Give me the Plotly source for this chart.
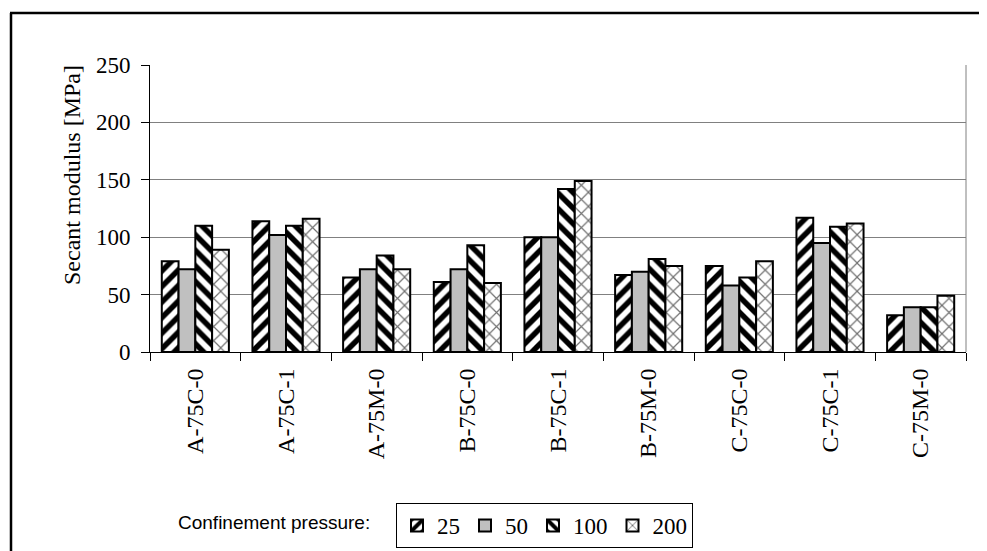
import plotly.graph_objects as go

categories = ["A-75C-0", "A-75C-1", "A-75M-0", "B-75C-0", "B-75C-1",
              "B-75M-0", "C-75C-0", "C-75C-1", "C-75M-0"]
series_names = ["25", "50", "100", "200"]
p25 = [79, 114, 65, 61, 100, 67, 75, 117, 32]
p50 = [72, 102, 72, 72, 100, 70, 58, 95, 39]
p100 = [110, 110, 84, 93, 142, 81, 65, 109, 39]
p200 = [89, 116, 72, 60, 149, 75, 79, 112, 49]
y_ticks = [0, 50, 100, 150, 200, 250]

# page offset caused by the default body margin
O = 8
W, H = 987 - O, 551 - O
# plot area in page pixels: x 150..966, y 65..352
L, T = 150 - O, 65 - O
R, B = W - (966 - O), H - (352 - O)
PW, PH = W - L - R, H - T - B

def px(x):  # page x -> paper
    return (x - O - L) / PW

def py(y):  # page y -> paper
    return (H - B - (y - O)) / PH

serif = "Liberation Serif, Times New Roman, serif"
sans = "Liberation Sans, Arial, sans-serif"

styles = [
    dict(color="white", pattern=dict(shape="/", fgcolor="black", bgcolor="white", size=11, solidity=0.5, fillmode="replace")),
    dict(color="#c0c0c0"),
    dict(color="white", pattern=dict(shape="\\", fgcolor="black", bgcolor="white", size=11, solidity=0.5, fillmode="replace")),
    dict(color="white", pattern=dict(shape="x", fgcolor="#707070", bgcolor="white", size=10, solidity=0.22, fillmode="replace")),
]

fig = go.Figure()
for name, vals, st in zip(series_names, [p25, p50, p100, p200], styles):
    marker = dict(line=dict(color="black", width=2), **st)
    fig.add_trace(go.Bar(x=categories, y=vals, name=name, marker=marker))

fig.update_layout(
    width=W, height=H,
    margin=dict(l=L, r=R, t=T, b=B, pad=0, autoexpand=False),
    paper_bgcolor="white", plot_bgcolor="white",
    barmode="group", bargap=0.26, bargroupgap=0,
    font=dict(family=serif, size=24, color="black"),
    showlegend=True,
    legend=dict(orientation="h", xref="container", yref="container",
                x=(396 - O) / W, y=1 - (503 - O) / H, xanchor="left", yanchor="top",
                bordercolor="black", borderwidth=1, bgcolor="white",
                font=dict(family=serif, size=23), itemwidth=30,
                traceorder="normal"),
    xaxis=dict(type="category", tickson="boundaries", ticks="outside", ticklen=8,
               tickcolor="black", showline=True, linecolor="black", linewidth=1,
               tickangle=-90, showgrid=False, automargin=False, ticklabelstandoff=6,
               tickfont=dict(family=serif, size=24)),
    yaxis=dict(range=[0, 250], tickvals=y_ticks, ticks="outside", ticklen=8,
               tickcolor="black", showline=True, linecolor="black", linewidth=1,
               showgrid=True, gridcolor="#808080", gridwidth=1, zeroline=False,
               automargin=False, ticklabelstandoff=6,
               tickfont=dict(family=serif, size=23)),
)

# plot-area right border
fig.add_shape(type="line", xref="paper", yref="paper", x0=1, x1=1, y0=0, y1=1,
              line=dict(color="#808080", width=1))
# outer frame (top and left)
fig.add_shape(type="line", xref="paper", yref="paper", x0=px(10), x1=px(985), y0=py(13), y1=py(13),
              line=dict(color="black", width=2.5))
fig.add_shape(type="line", xref="paper", yref="paper", x0=px(11), x1=px(11), y0=py(13), y1=py(560),
              line=dict(color="black", width=2.5))

fig.add_annotation(text="Secant modulus [MPa]", xref="paper", yref="paper",
                   x=px(72), y=py(175), textangle=-90, showarrow=False,
                   font=dict(family=serif, size=24), xanchor="center", yanchor="middle")
fig.add_annotation(text="Confinement pressure:", xref="paper", yref="paper",
                   x=px(372), y=py(522), showarrow=False, xanchor="right", yanchor="middle",
                   font=dict(family=sans, size=19))

fig.write_html("out.html")
